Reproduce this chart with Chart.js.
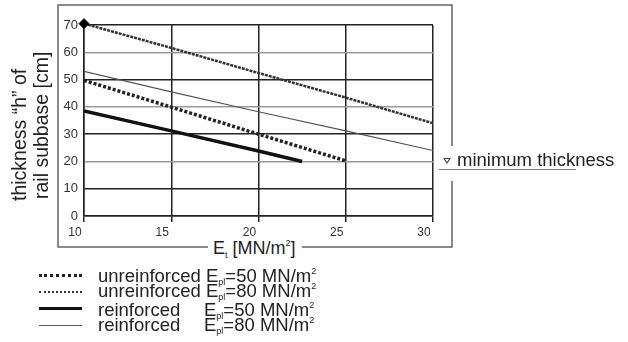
<!DOCTYPE html>
<html>
<head>
<meta charset="utf-8">
<script src="https://cdn.jsdelivr.net/npm/chart.js@4/dist/chart.umd.min.js"></script>
<style>
  html, body { margin: 0; padding: 0; background: #fff; }
  #wrap { position: relative; width: 628px; height: 342px; overflow: hidden;
          font-family: "Liberation Sans", Arial, sans-serif; color: #222; }
  #chart { position: absolute; left: 0; top: 0; }
  .abs { position: absolute; white-space: nowrap; }
  .ytitle { font-size: 19.5px; transform-origin: 0 0; transform: rotate(-90deg); line-height: 22px; }
  .xtitle { font-size: 18px; background: #fff; padding: 0 4px; }
  .leg { font-size: 18.5px; line-height: 16px; }
  .leg sub { font-size: 9px; vertical-align: -3px; }
  .leg sup, .xtitle sup { font-size: 9px; vertical-align: 8px; }
  .xtitle sub { font-size: 9px; vertical-align: -4px; }
  .w1 { display: inline-block; width: 106px; }
  .sample { position: absolute; left: 39px; width: 43px; height: 0; }
</style>
</head>
<body>
<div id="wrap">
  <canvas id="chart" width="628" height="342"></canvas>

  <div class="abs ytitle" style="left:8px; top:201px;">thickness “h” of</div>
  <div class="abs ytitle" style="left:30px; top:199px;">rail subbase [cm]</div>

  <div class="abs xtitle" style="left:209px; top:238px;">E<sub>t</sub> [MN/m<sup>2</sup>]</div>

  <div class="abs" style="left:443px; top:158px; width:0; height:0; border-left:4px solid transparent; border-right:4px solid transparent; border-top:6px solid #444;"></div>
  <div class="abs" style="left:445px; top:159px; width:0; height:0; border-left:2px solid transparent; border-right:2px solid transparent; border-top:3px solid #fff;"></div>
  <div class="abs" style="left:439px; top:169px; width:137px; height:0; border-top:1px solid #777;"></div>
  <div class="abs" style="left:457px; top:149px; font-size:18.5px;">minimum thickness</div>

  <div class="sample" style="top:274px; border-top:3px dotted #222;"></div>
  <div class="sample" style="top:291px; border-top:2px dotted #333;"></div>
  <div class="sample" style="top:307px; border-top:3.5px solid #111;"></div>
  <div class="sample" style="top:325px; border-top:1.5px solid #555;"></div>
  <div class="abs leg" style="left:98px; top:263px;">unreinforced E<sub>pl</sub>=50 MN/m<sup>2</sup></div>
  <div class="abs leg" style="left:98px; top:278px;">unreinforced E<sub>pl</sub>=80 MN/m<sup>2</sup></div>
  <div class="abs leg" style="left:98px; top:297px;"><span class="w1">reinforced</span>E<sub>pl</sub>=50 MN/m<sup>2</sup></div>
  <div class="abs leg" style="left:98px; top:312px;"><span class="w1">reinforced</span>E<sub>pl</sub>=80 MN/m<sup>2</sup></div>
</div>

<script>
// E_t values [MN/m2]
const eTicks = [10, 15, 20, 25, 30];
const thicknessTicks = [0, 10, 20, 30, 40, 50, 60, 70];

// unreinforced, E_pl = 80 MN/m2
const unreinf80X = [10, 15, 20, 25, 30];
const unreinf80 = [70.5, 61.6, 52.4, 43.4, 34];

// reinforced, E_pl = 80 MN/m2
const reinf80X = [10, 15, 20, 25, 30];
const reinf80 = [53, 45.5, 38.2, 31.2, 24];

// unreinforced, E_pl = 50 MN/m2
const unreinf50X = [10, 15, 20, 25];
const unreinf50 = [49.7, 39.9, 30, 20.2];

// reinforced, E_pl = 50 MN/m2
const reinf50X = [10, 15, 20, 22.5];
const reinf50 = [38.5, 31.2, 23.8, 20];

// start marker
const markerX = [10];
const markerY = [70.5];

const pts = (xs, ys) => xs.map((x, i) => ({ x: x, y: ys[i] }));

// outer frame with gaps for the axis title and the annotation
const framePlugin = {
  id: 'frame',
  beforeDraw(chart) {
    const c = chart.ctx;
    c.save();
    c.strokeStyle = '#666';
    c.lineWidth = 1.5;
    c.beginPath();
    c.moveTo(208, 247); c.lineTo(58, 247); c.lineTo(58, 5); c.lineTo(452, 5); c.lineTo(452, 146);
    c.moveTo(452, 181); c.lineTo(452, 247); c.lineTo(302, 247);
    c.stroke();
    c.restore();
  }
};

const darkGrid = '#222';
const greyGrid = '#9a9a9a';

new Chart(document.getElementById('chart').getContext('2d'), {
  type: 'line',
  data: {
    datasets: [
      { label: 'unreinforced Epl=80', data: pts(unreinf80X, unreinf80), borderColor: '#333',
        borderWidth: 2.5, borderDash: [3, 1], pointRadius: 0 },
      { label: 'reinforced Epl=80', data: pts(reinf80X, reinf80), borderColor: '#555',
        borderWidth: 1.2, pointRadius: 0 },
      { label: 'unreinforced Epl=50', data: pts(unreinf50X, unreinf50), borderColor: '#222',
        borderWidth: 3.5, borderDash: [3, 2], pointRadius: 0 },
      { label: 'reinforced Epl=50', data: pts(reinf50X, reinf50), borderColor: '#111',
        borderWidth: 3.5, pointRadius: 0 },
      { label: 'start', data: pts(markerX, markerY), showLine: false, pointStyle: 'rectRot',
        pointRadius: 5, backgroundColor: '#000', borderColor: '#000', clip: false }
    ]
  },
  options: {
    responsive: false,
    animation: false,
    events: [],
    layout: { padding: { left: 0, top: 25, right: 195, bottom: 0 } },
    plugins: { legend: { display: false }, tooltip: { enabled: false } },
    scales: {
      x: {
        type: 'linear', min: 10, max: 30,
        afterBuildTicks: s => { s.ticks = eTicks.map(v => ({ value: v })); },
        afterFit: s => { s.height = 126; },
        grid: { color: darkGrid, lineWidth: 1.5, tickLength: 6 },
        border: { color: darkGrid, width: 1.5 },
        ticks: { color: '#333', font: { family: 'Liberation Sans', size: 12 }, padding: 3,
                 labelOffset: -9, maxRotation: 0 }
      },
      y: {
        min: 0, max: 70,
        afterBuildTicks: s => { s.ticks = thicknessTicks.map(v => ({ value: v })); },
        afterFit: s => { s.width = 84; },
        grid: { color: ctx => (ctx.tick && ctx.tick.value % 20 === 10) || (ctx.tick && ctx.tick.value === 0) ? darkGrid : greyGrid,
                lineWidth: 1.5, drawTicks: false },
        border: { color: darkGrid, width: 1.5 },
        ticks: { color: '#333', font: { family: 'Liberation Sans', size: 13 }, padding: 6 }
      }
    }
  },
  plugins: [framePlugin]
});
</script>
</body>
</html>
